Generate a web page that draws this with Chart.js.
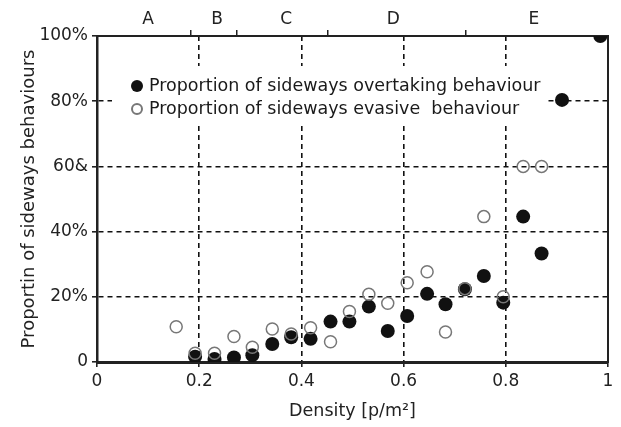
<!DOCTYPE html>
<html>
<head>
<meta charset="utf-8">
<script src="https://cdn.jsdelivr.net/npm/chart.js@4"></script>
<style>
  html, body { margin: 0; padding: 0; background: #fff; }
  #wrap { width: 621px; height: 427px; }
</style>
</head>
<body>
<div id="wrap"><canvas id="chart" width="621" height="427"></canvas></div>
<script>
// --- DATA ---
const densityOvertaking = [0.192, 0.23, 0.268, 0.304, 0.343, 0.38, 0.418, 0.457, 0.494, 0.532, 0.569, 0.607, 0.646, 0.682, 0.72, 0.757, 0.795, 0.834, 0.87, 0.91, 0.985];
const overtakingPct = [1.6, 0.9, 1.4, 2.1, 5.5, 7.6, 7.1, 12.4, 12.4, 17.0, 9.5, 14.1, 20.9, 17.7, 22.3, 26.4, 18.2, 44.6, 33.3, 80.4, 100];
const densityEvasive = [0.155, 0.192, 0.23, 0.268, 0.304, 0.343, 0.38, 0.418, 0.457, 0.494, 0.532, 0.569, 0.607, 0.646, 0.682, 0.72, 0.757, 0.795, 0.834, 0.87];
const evasivePct = [10.8, 2.7, 2.7, 7.8, 4.5, 10.1, 8.6, 10.5, 6.2, 15.5, 20.8, 18.0, 24.3, 27.7, 9.2, 22.5, 44.6, 20.0, 60, 60];

const yTickLabels = ["0", "20%", "40%", "60&", "80%", "100%"];
const xTickLabels = ["0", "0.2", "0.4", "0.6", "0.8", "1"];

// level of service zones on the top axis
const zoneLetters = ["A", "B", "C", "D", "E"];
const zoneLetterPos = [0.1, 0.235, 0.37, 0.58, 0.855];
const zoneBounds = [0.184, 0.274, 0.452, 0.722];

const FONT = "'DejaVu Sans', sans-serif";

// --- LEGEND (drawn inside the plot, over the grid) ---
const insideLegend = {
  id: "insideLegend",
  beforeDatasetsDraw(chart) {
    const ctx = chart.ctx;
    ctx.save();
    ctx.fillStyle = "#fff";
    ctx.fillRect(112, 66, 436, 56);
    const rows = [chart.data.datasets[1], chart.data.datasets[0]];
    rows.forEach((ds, i) => {
      const y = 86 + i * 23;
      ctx.beginPath();
      ctx.arc(137, y, i === 0 ? 6 : 5, 0, Math.PI * 2);
      if (i === 0) {
        ctx.fillStyle = ds.backgroundColor;
        ctx.fill();
      } else {
        ctx.lineWidth = 2;
        ctx.strokeStyle = ds.borderColor;
        ctx.stroke();
      }
      ctx.fillStyle = "#1a1a1a";
      ctx.font = "17.5px " + FONT;
      ctx.textAlign = "left";
      ctx.textBaseline = "middle";
      ctx.fillText(ds.label, 149, y);
    });
    ctx.restore();
  }
};

const toPoints = (xs, ys) => xs.map((x, i) => ({ x, y: ys[i] }));

new Chart(document.getElementById("chart"), {
  type: "scatter",
  data: {
    datasets: [
      {
        label: "Proportion of sideways evasive  behaviour",
        data: toPoints(densityEvasive, evasivePct),
        pointRadius: 6,
        pointHoverRadius: 6,
        borderWidth: 1.5,
        borderColor: "#777",
        backgroundColor: "rgba(255,255,255,0)",
      },
      {
        label: "Proportion of sideways overtaking behaviour",
        data: toPoints(densityOvertaking, overtakingPct),
        pointRadius: 7,
        pointHoverRadius: 7,
        borderWidth: 0,
        borderColor: "#111",
        backgroundColor: "#111",
      }
    ]
  },
  options: {
    responsive: false,
    animation: false,
    layout: { padding: 0 },
    plugins: {
      legend: { display: false },
      tooltip: { enabled: false },
    },
    scales: {
      x: {
        type: "linear",
        position: "bottom",
        min: 0,
        max: 1,
        afterBuildTicks: (s) => { s.ticks = xTickLabels.map((_, i) => ({ value: i * 0.2 })); },
        afterFit: (s) => { s.height = 65; },
        ticks: {
          callback: (v, i) => xTickLabels[i],
          font: { family: FONT, size: 17 },
          color: "#222",
          padding: 4,
          maxRotation: 0,
        },
        grid: {
          color: (c) => (c.tick && (c.tick.value === 0 || c.tick.value === 1)) ? "rgba(0,0,0,0)" : "#111",
          lineWidth: 1.6,
          tickLength: 5,
          tickColor: "#222",
          tickBorderDash: [],
        },
        border: { display: true, color: "#222", width: 3, dash: [5, 4] },
        title: {
          display: true,
          text: "Density [p/m²]",
          font: { family: FONT, size: 17.5 },
          color: "#222",
          padding: { top: 0, bottom: 5 },
        },
      },
      xTop: {
        type: "linear",
        position: "top",
        min: 0,
        max: 1,
        afterBuildTicks: (s) => {
          s.ticks = zoneLetterPos.map(v => ({ value: v })).concat(zoneBounds.map(v => ({ value: v })));
        },
        afterFit: (s) => { s.height = 36; },
        ticks: {
          callback: (v, i) => i < zoneLetters.length ? zoneLetters[i] : "",
          font: { family: FONT, size: 17 },
          color: "#222",
          padding: 0,
          maxRotation: 0,
          autoSkip: false,
        },
        grid: {
          drawOnChartArea: false,
          tickLength: 6,
          lineWidth: 1.5,
          tickColor: (c) => c.index < zoneLetters.length ? "rgba(0,0,0,0)" : "#222",
        },
        border: { display: true, color: "#222", width: 2 },
      },
      y: {
        type: "linear",
        position: "left",
        min: 0,
        max: 100,
        afterBuildTicks: (s) => { s.ticks = yTickLabels.map((_, i) => ({ value: i * 20 })); },
        afterFit: (s) => { s.width = 97; },
        ticks: {
          callback: (v, i) => yTickLabels[i],
          font: { family: FONT, size: 17 },
          color: "#222",
          padding: 4,
        },
        grid: {
          color: (c) => (c.tick && (c.tick.value === 0 || c.tick.value === 100)) ? "rgba(0,0,0,0)" : "#111",
          lineWidth: 1.6,
          tickLength: 5,
          tickColor: "#222",
          tickBorderDash: [],
        },
        border: { display: true, color: "#222", width: 2.5, dash: [5, 4] },
        title: {
          display: true,
          text: "Proportin of sideways behaviours",
          font: { family: FONT, size: 18 },
          color: "#222",
          padding: { top: 19, bottom: 0 },
        },
      },
      yRight: {
        type: "linear",
        position: "right",
        min: 0,
        max: 100,
        afterFit: (s) => { s.width = 13; },
        ticks: { display: false },
        grid: { display: false, drawTicks: false },
        border: { display: true, color: "#222", width: 2 },
      },
    }
  },
  plugins: [insideLegend]
});
</script>
</body>
</html>
